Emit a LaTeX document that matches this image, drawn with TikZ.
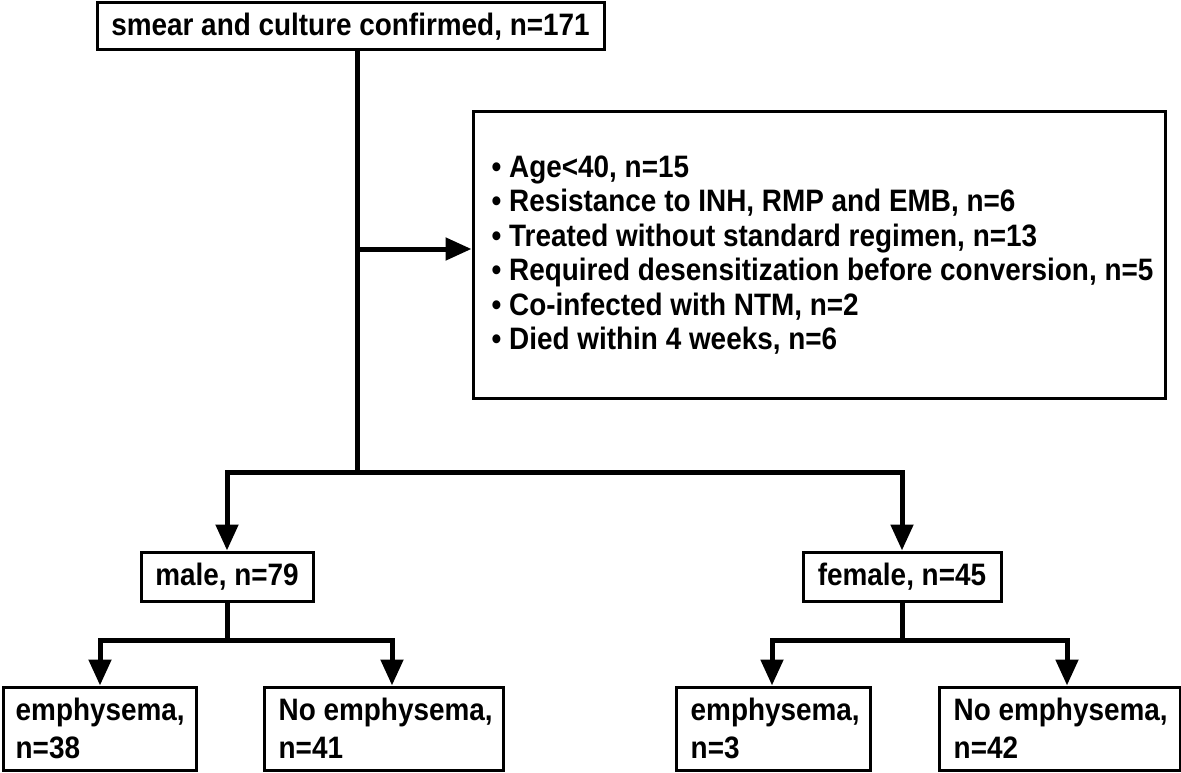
\documentclass[tikz,border=0pt]{standalone}
\usepackage{fontspec}
\setmainfont{Liberation Sans}[FakeStretch=0.9]
\usetikzlibrary{arrows.meta}
\begin{document}
\begin{tikzpicture}[x=1pt,y=-1pt,
  box/.style={draw=black,line width=3pt,fill=white,inner sep=0pt,font=\bfseries\fontsize{31}{33}\selectfont},
  leafbox/.style={box,minimum height=83pt},
  leaftext/.style={anchor=west,inner sep=0pt,align=left,font=\bfseries\fontsize{31}{38}\selectfont},
  listtext/.style={anchor=west,inner sep=0pt,align=left,font=\bfseries\fontsize{31}{34.4}\selectfont},
  conn/.style={line width=5pt,line cap=butt,line join=miter},
  arr/.style={conn,-{Triangle[length=26pt,width=22pt]}}]
\useasboundingbox (0,0) rectangle (1181,773);
% nodes
\node[box,minimum width=507pt,minimum height=47pt] (top) at (350.5,26.5) {smear and culture confirmed, n=171};
\node[box,minimum width=692pt,minimum height=286pt] (excl) at (819,255) {};
\node[listtext] (excltext) at ([xshift=20pt]excl.west) 
 {\textbullet\ Age<40, n=15\\
  \textbullet\ Resistance to INH, RMP and EMB, n=6\\
  \textbullet\ Treated without standard regimen, n=13\\
  \textbullet\ Required desensitization before conversion, n=5\\
  \textbullet\ Co-infected with NTM, n=2\\
  \textbullet\ Died within 4 weeks, n=6};
\node[box,minimum width=172pt,minimum height=49pt] (male) at (227,576.5) {male, n=79};
\node[box,minimum width=198pt,minimum height=49pt] (female) at (902,576.5) {female, n=45};
\node[leafbox,minimum width=193pt] (me) at (99.5,728.5) {};
\node[leaftext] (metext) at ([xshift=14pt]me.west) {emphysema,\\n=38};
\node[leafbox,minimum width=239pt] (mn) at (383.5,728.5) {};
\node[leaftext] (mntext) at ([xshift=16pt]mn.west) {No emphysema,\\n=41};
\node[leafbox,minimum width=194pt] (fe) at (773,728.5) {};
\node[leaftext] (fetext) at ([xshift=16pt]fe.west) {emphysema,\\n=3};
\node[leafbox,minimum width=241pt] (fn) at (1059.5,728.5) {};
\node[leaftext] (fntext) at ([xshift=16pt]fn.west) {No emphysema,\\n=42};
% junctions
\coordinate (j1) at (357,249);
\coordinate (j2) at (357,472);
\coordinate (mj) at (227,640);
\coordinate (fj) at (902,640);
\coordinate (ml) at (100,640);
\coordinate (mr) at (392,640);
\coordinate (fl) at (772,640);
\coordinate (fr) at (1067,640);
% connectors
\draw[conn] (top.south -| j1) -- (j2);
\draw[arr] (j1) -- (excl.west |- j1);
\draw[arr] (j2) -| (male.north);
\draw[arr] (j2) -| (female.north);
\draw[conn] (male.south) -- (mj);
\draw[arr] (mj) -- (ml) -- (ml |- me.north);
\draw[arr] (mj) -- (mr) -- (mr |- mn.north);
\draw[conn] (female.south) -- (fj);
\draw[arr] (fj) -- (fl) -- (fl |- fe.north);
\draw[arr] (fj) -- (fr) -- (fr |- fn.north);
\end{tikzpicture}
\end{document}
